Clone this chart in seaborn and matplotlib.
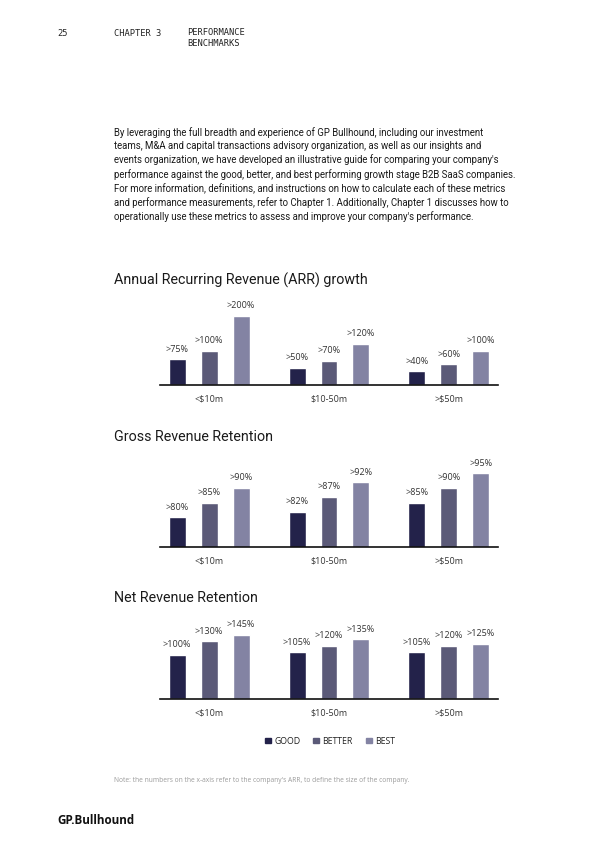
import pandas as pd
import numpy as np
import seaborn as sns
import matplotlib.pyplot as plt

# ---------------------------------------------
# data
# ---------------------------------------------
segments = ["<$10m", "$10-50m", ">$50m"]
tiers = ["GOOD", "BETTER", "BEST"]

arr_growth = [75, 100, 200, 50, 70, 120, 40, 60, 100]
gross_ret = [80, 85, 90, 82, 87, 92, 85, 90, 95]
net_ret = [100, 130, 145, 105, 120, 135, 105, 120, 125]

colors = ["#23224a", "#5b5a78", "#8383a3"]

charts = [
    ("Annual Recurring Revenue (ARR) growth", arr_growth, (0, 261), 385),
    ("Gross Revenue Retention", gross_ret, (70, 100.5), 547),
    ("Net Revenue Retention", net_ret, (0, 203), 699),
]

sns.set_theme(style="white")
plt.rcParams["font.family"] = ["Open Sans", "DejaVu Sans"]

W, H = 600, 848
fig = plt.figure(figsize=(6, 8.48), dpi=100)

# ---------------------------------------------
# header + intro text
# ---------------------------------------------
mono = "DejaVu Sans Mono"
fig.text(57 / W, 1 - 33 / H, "25", fontsize=6.3, family=mono, color="#222222", va="center")
fig.text(114 / W, 1 - 33 / H, "CHAPTER 3", fontsize=6.3, family=mono, color="#222222", va="center")
fig.text(187 / W, 1 - 28 / H, "PERFORMANCE\nBENCHMARKS", fontsize=6.3, family=mono,
         color="#222222", va="top", linespacing=1.3)

para1 = ("By leveraging the full breadth and experience of GP Bullhound, including our investment\n"
         "teams, M&A and capital transactions advisory organization, as well as our insights and\n"
         "events organization, we have developed an illustrative guide for comparing your company's\n"
         "performance against the good, better, and best performing growth stage B2B SaaS companies.")
para2 = ("For more information, definitions, and instructions on how to calculate each of these metrics\n"
         "and performance measurements, refer to Chapter 1. Additionally, Chapter 1 discusses how to\n"
         "operationally use these metrics to assess and improve your company's performance.")
fig.text(114 / W, 1 - 127 / H, para1, fontsize=6.95, family="Roboto", color="#1a1a1a",
         va="top", linespacing=1.38)
fig.text(114 / W, 1 - 183 / H, para2, fontsize=6.95, family="Roboto", color="#1a1a1a",
         va="top", linespacing=1.38)

# ---------------------------------------------
# charts
# ---------------------------------------------
title_y = [280, 437, 598]
for (title, vals, ylim, base), ty in zip(charts, title_y):
    df = pd.DataFrame({
        "Segment": np.repeat(segments, 3),
        "Tier": tiers * 3,
        "Value": vals,
    })
    ax = fig.add_axes([160 / W, 1 - base / H, 338 / W, 90 / H])
    sns.barplot(data=df, x="Segment", y="Value", hue="Tier", order=segments,
                hue_order=tiers, palette=colors, width=0.8, gap=0.47, ax=ax,
                saturation=1, legend=False)
    for cont in ax.containers:
        ax.bar_label(cont, labels=[f">{v:.0f}%" for v in cont.datavalues],
                     padding=4, fontsize=6.5, color="#333333")
    ax.set_ylim(*ylim)
    ax.set_xlim(-0.41, 2.41)
    ax.set_yticks([])
    ax.set_xlabel("")
    ax.set_ylabel("")
    for s in ["top", "left", "right"]:
        ax.spines[s].set_visible(False)
    ax.spines["bottom"].set_color("#111111")
    ax.spines["bottom"].set_linewidth(1.2)
    ax.tick_params(axis="x", length=0, pad=7, labelsize=6.5, labelcolor="#333333")
    ax.patch.set_alpha(0)
    fig.text(114 / W, 1 - ty / H, title, fontsize=10.3, family="Roboto",
             color="#1a1a1a", va="center")

# ---------------------------------------------
# legend, note, logo
# ---------------------------------------------
handles = [plt.Rectangle((0, 0), 1, 1, color=c) for c in colors]
fig.legend(handles, tiers, loc="center", bbox_to_anchor=(330 / W, 1 - 741 / H), ncol=3,
           frameon=False, fontsize=6.3, handlelength=0.65, handleheight=0.65,
           handletextpad=0.4, columnspacing=1.5, labelcolor="#222222")

fig.text(114 / W, 1 - 781 / H,
         "Note: the numbers on the x-axis refer to the company's ARR, to define the size of the company.",
         fontsize=4.8, color="#9a9a9a", va="center")

fig.text(57 / W, 1 - 820 / H, "GP.Bullhound", fontsize=8.4, fontweight="bold",
         color="#111111", va="center")

fig.savefig("out.png", dpi=100, facecolor="white")
